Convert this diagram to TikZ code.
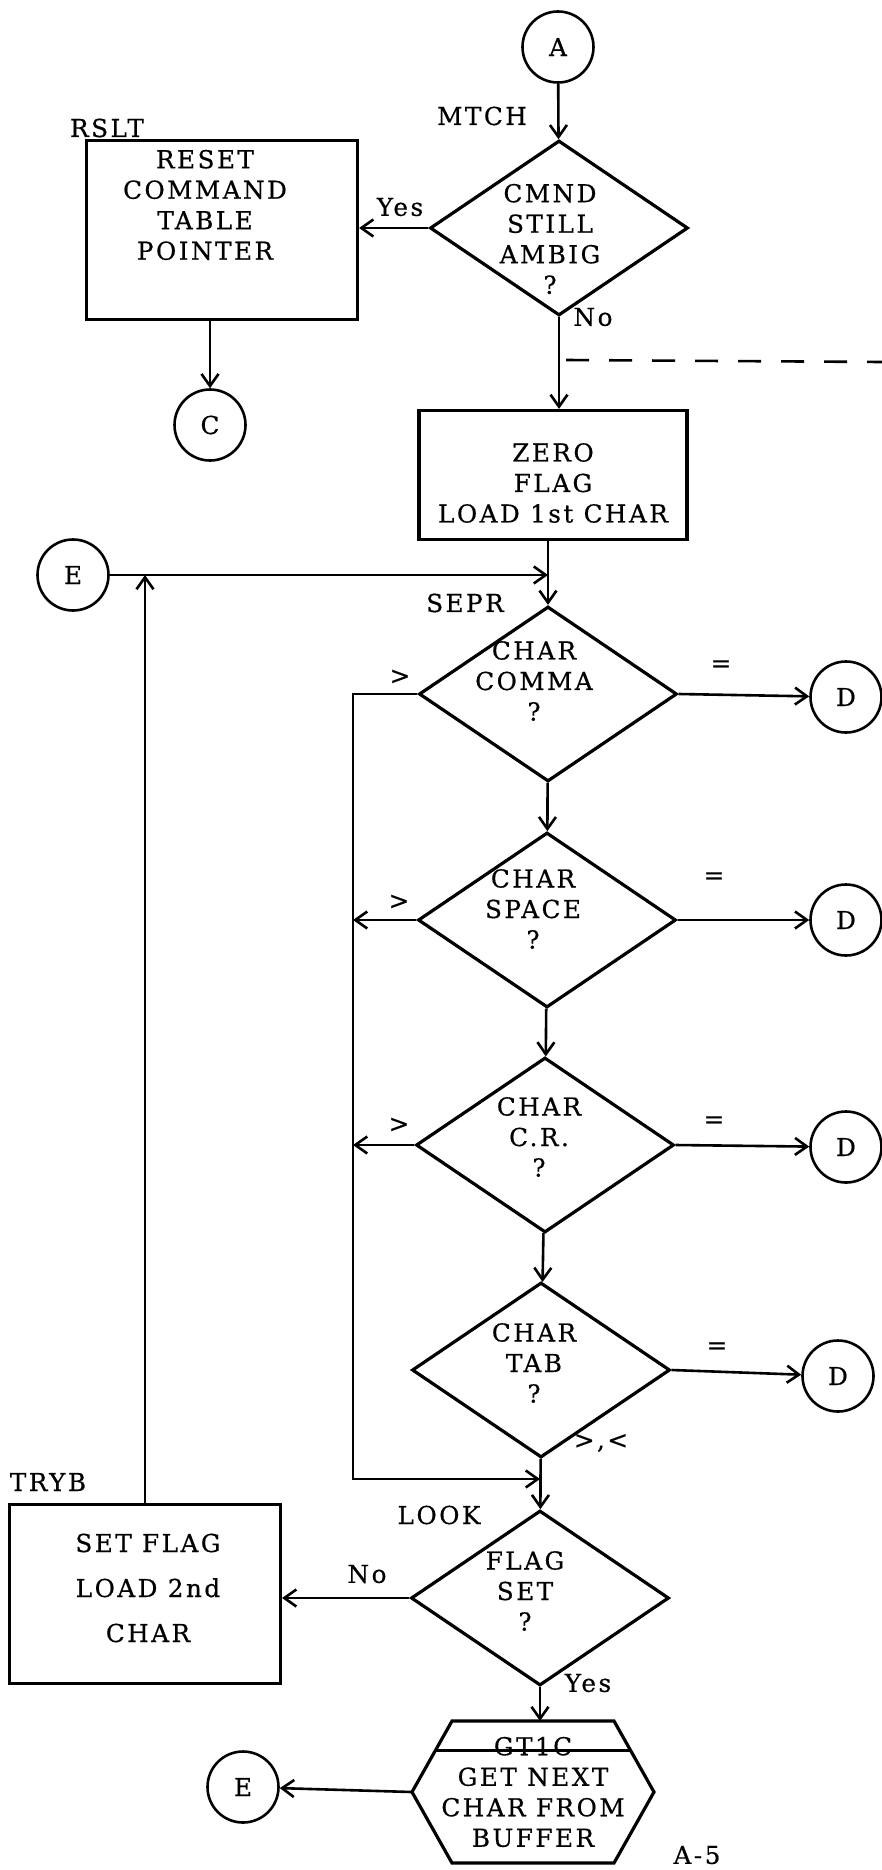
\documentclass[tikz,border=0pt]{standalone}
\usepackage{fontspec}
\setmainfont{DejaVu Serif}[LetterSpace=10, FakeBold=0.5]
\usetikzlibrary{shapes.geometric, arrows.meta, calc}

\begin{document}
\begin{tikzpicture}[x=1pt, y=-1pt,
  every node/.style={font=\fontsize{24.7}{30.5}\selectfont},
  conn/.style={circle, draw, line width=2.6pt, minimum size=71, inner sep=0},
  box/.style={draw, line width=3.2pt, minimum width=271, minimum height=179, inner sep=0},
  decision/.style={diamond, draw, line width=3.2pt, minimum width=258, minimum height=175, inner sep=0},
  dtext/.style={align=center},
  flow/.style={line width=2.6pt, -{Straight Barb[length=12pt, width=17pt]}}]
\useasboundingbox (0,0) rectangle (882,1870);

% top part
\node[conn] (a) at (558,47) {A};
\node[decision, label={[dtext, shift={(-9,11)}]center:{CMND\\STILL\\AMBIG\\?}}] (cmnd) at (559,228) {};
\node[box, label={[dtext, shift={(-17,-25)}]center:{RESET\\COMMAND\\TABLE\\POINTER}}] (rslt) at (222,230) {};
\node[conn] (c) at (210,425) {C};
\node[box, minimum width=268, minimum height=129, label={[dtext, shift={(0,8)}]center:{ZERO\\FLAG\\LOAD 1st CHAR}}] (zero) at (553,475) {};

% separator tests
\node[conn] (e1) at (73,575) {E};
\node[decision, label={[dtext, shift={(-14,-13)}]center:{CHAR\\COMMA\\?}}] (comma) at (548,694) {};
\node[conn] (d1) at (846,697) {D};
\node[decision, label={[dtext, shift={(-14,-11)}]center:{CHAR\\SPACE\\?}}] (space) at (547,920) {};
\node[conn] (d2) at (846,920) {D};
\node[decision, label={[dtext, shift={(-6,-8)}]center:{CHAR\\C.R.\\?}}] (cr) at (545,1145) {};
\node[conn] (d3) at (846,1147) {D};
\node[decision, label={[dtext, shift={(-7,-7)}]center:{CHAR\\TAB\\?}}] (tab) at (541,1370) {};
\node[conn] (d4) at (838,1376) {D};

% bottom part
\node[decision, label={[dtext, shift={(-15,-7)}]center:{FLAG\\SET\\?}}] (flag) at (540,1598) {};
\node[box, label={[dtext, font=\fontsize{24.7}{45}\selectfont, shift={(3,-6)}]center:{SET FLAG\\LOAD 2nd\\CHAR}}] (tryb) at (145,1594) {};
\node[minimum width=242, minimum height=142, inner sep=0, outer sep=0, align=center] (gt1c) at (533,1792) {GT1C\\GET NEXT\\CHAR FROM\\BUFFER};
\node[conn] (e2) at (243,1787) {E};
\draw[line width=3.2pt] ($(gt1c.north west)+(40,0)$) coordinate (hnw) -- ($(gt1c.north east)+(-40,0)$) coordinate (hne)
  -- (gt1c.east) -- ($(gt1c.south east)+(-40,0)$) -- ($(gt1c.south west)+(40,0)$) -- (gt1c.west) -- cycle;
\draw[line width=3.2pt] ($(hnw)!0.41!(gt1c.west)$) -- ($(hne)!0.41!(gt1c.east)$);

% connectors
\draw[flow] (a) -- (cmnd);
\draw[flow] (cmnd.west) -- (cmnd.west -| rslt.east);
\draw[flow] (cmnd.south) -- (cmnd.south |- zero.north);
\draw[flow] (rslt.south -| c.north) -- (c);
\coordinate (dash1) at (566,360);
\coordinate (dash2) at (882,362);
\draw[line width=2.6pt, dash pattern=on 23pt off 20pt] (dash1) -- (dash2);
\draw[flow] (zero.south -| comma.north) -- (comma.north);
\draw[flow] (e1) -- (e1 -| comma.north);
\draw[flow] (tryb.north) -- (tryb.north |- e1);
\coordinate (loopbot) at (353,1479);
\draw[flow] (comma.west) -| (loopbot) -- (loopbot -| flag.north);
\draw[flow] (space.west) -- (space.west -| loopbot);
\draw[flow] (cr.west) -- (cr.west -| loopbot);
\draw[flow] (comma) -- (space);
\draw[flow] (space) -- (cr);
\draw[flow] (cr) -- (tab);
\draw[flow] (tab) -- (flag);
\draw[flow] (comma.east) -- (d1);
\draw[flow] (space.east) -- (d2);
\draw[flow] (cr.east) -- (d3);
\draw[flow] (tab.east) -- (d4);
\draw[flow] (flag.west) -- (flag.west -| tryb.east);
\draw[flow] (flag.south) -- (flag.south |- gt1c.north);
\draw[flow] (gt1c.west) -- (e2);

% labels
\node (mtch) at (482,116) {MTCH};
\node (rsltlbl) at (107,128) {RSLT};
\node (yes1) at (400,207) {Yes};
\node (no1) at (593,317) {No};
\node (sepr) at (465,603) {SEPR};
\node (gt1) at (400,677) {>};
\node (eq1) at (721,666) {=};
\node (gt2) at (399,902) {>};
\node (eq2) at (714,878) {=};
\node (gt3) at (399,1125) {>};
\node (eq3) at (714,1122) {=};
\node (eq4) at (717,1348) {=};
\node (gtlt) at (601,1443) {>,<};
\node (look) at (439,1515) {LOOK};
\node (tryblbl) at (48,1482) {TRYB};
\node (no2) at (367,1574) {No};
\node (yes2) at (588,1683) {Yes};
\node (page) at (697,1855) {A-5};
\end{tikzpicture}
\end{document}
